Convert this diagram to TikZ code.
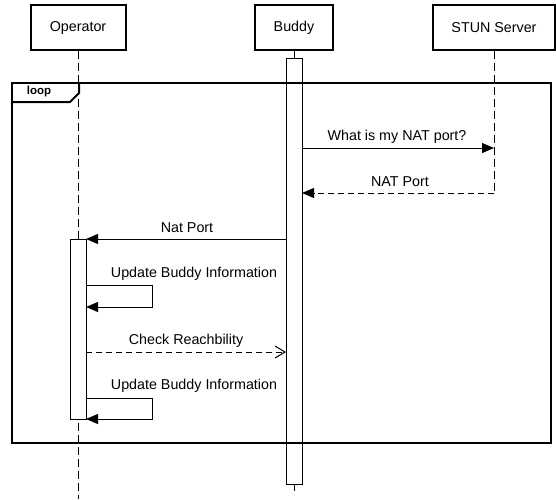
\documentclass[tikz,border=0pt]{standalone}
\usepackage{fontspec}
\setmainfont{Liberation Sans}
\usetikzlibrary{arrows.meta}
\begin{document}
\begin{tikzpicture}[x=1pt,y=-1pt,
  actor/.style={draw,line width=2pt,minimum height=45pt,inner sep=0pt,font=\fontsize{14.3}{17}\selectfont},
  lifeline/.style={line width=1pt,dash pattern=on 8pt off 4pt},
  actbar/.style={draw,fill=white,line width=1pt,inner sep=0pt,minimum width=16pt,anchor=north},
  msg/.style={line width=1pt,-{Triangle[length=12pt,width=10pt]}},
  reply/.style={msg,dash pattern=on 6pt off 4pt},
  async/.style={line width=1pt,dash pattern=on 6pt off 4pt,-{Straight Barb[length=10pt,width=12pt,line width=1pt]}},
  lbl/.style={font=\fontsize{14.3}{17}\selectfont,inner sep=0pt},
  framestyle/.style={line width=2pt}
]
\useasboundingbox (0,0) rectangle (556,499);
% actors
\node[actor,minimum width=95pt] (op) at (78,27.5) {Operator};
\node[actor,minimum width=78pt] (bud) at (294,27.5) {Buddy};
\node[actor,minimum width=122pt] (stun) at (494,27.5) {STUN Server};
% lifeline ends
\coordinate (opEnd) at (78,499);
\coordinate (budEnd) at (294,495);
\coordinate (stunEnd) at (494,193);
\draw[lifeline] (op.south) -- (opEnd);
\draw[lifeline] (bud.south) -- (budEnd);
\draw[lifeline] (stun.south) -- (stunEnd);
% activation bars
\node[actbar,minimum height=426pt] (budact) at (294,58) {};
\node[actbar,minimum height=180pt] (opact) at (78,239) {};
% loop frame
\draw[framestyle] (12,83) rectangle (551,443);
\draw[framestyle] (12,102) -- (70,102) -- (79,93) -- (79,83);
\node[font=\bfseries\fontsize{11.5}{13}\selectfont,inner sep=0pt] (looplbl) at (39,92) {loop};
% message points
\coordinate (m1s) at (302,148);
\coordinate (m1e) at (494,148);
\coordinate (m2e) at (302,193);
\coordinate (m3s) at (286,239);
\coordinate (m3e) at (86,239);
\coordinate (m4s) at (86,285);
\coordinate (m4e) at (86,307);
\coordinate (m5s) at (86,352);
\coordinate (m5e) at (286,352);
\coordinate (m6s) at (86,398);
\coordinate (m6e) at (86,419);
% messages
\draw[msg] (m1s) -- (m1e);
\node[lbl] (l1) at (397,137) {What is my NAT port?};
\draw[reply] (stunEnd) -- (m2e);
\node[lbl] (l2) at (400,182) {NAT Port};
\draw[msg] (m3s) -- (m3e);
\node[lbl] (l3) at (187,228) {Nat Port};
\draw[msg] (m4s) -- ++(66,0) |- (m4e);
\node[lbl] (l4) at (194,274) {Update Buddy Information};
\draw[async] (m5s) -- (m5e);
\node[lbl] (l5) at (186,341) {Check Reachbility};
\draw[msg] (m6s) -- ++(66,0) |- (m6e);
\node[lbl] (l6) at (194,386) {Update Buddy Information};
\end{tikzpicture}
\end{document}
